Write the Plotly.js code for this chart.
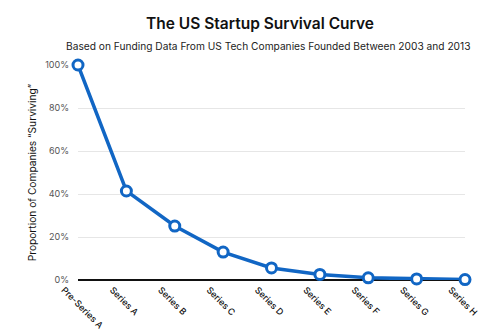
<!DOCTYPE html>
<html><head><meta charset="utf-8">
<script src="https://cdn.plot.ly/plotly-3.0.1.min.js"></script>
<style>html,body{margin:0;padding:0;background:#fff;}#chart{width:500px;height:335px;}</style>
</head><body><div id="chart"></div>
<script>
const stages = ["Pre-Series A","Series A","Series B","Series C","Series D","Series E","Series F","Series G","Series H"];
const survival = [100, 41.4, 25.1, 13, 5.6, 2.6, 1.0, 0.5, 0.2];
const yTickVals = [0, 20, 40, 60, 80, 100];
const yTickText = ["0%","20%","40%","60%","80%","100%"];

const FONT = "Inter, 'Open Sans', sans-serif";
Plotly.newPlot("chart", [{
  x: stages, y: survival, type: "scatter", mode: "lines+markers",
  line: {color: "#1166c4", width: 3.5},
  marker: {symbol: "circle", size: 10, color: "#ffffff", line: {color: "#1166c4", width: 3}},
  cliponaxis: false, hoverinfo: "skip"
}], {
  width: 500, height: 335,
  margin: {l: 78, r: 35, t: 65, b: 55},
  paper_bgcolor: "#ffffff", plot_bgcolor: "#ffffff",
  showlegend: false,
  title: {text: "The US Startup Survival Curve", x: 0.52, xanchor: "center", y: 0.93, yanchor: "middle",
          font: {family: FONT, size: 15.5, color: "#111", weight: 600}},
  annotations: [{text: "Based on Funding Data From US Tech Companies Founded Between 2003 and 2013",
    xref: "paper", yref: "paper", x: 0.49, y: 1.0 + 19/215, xanchor: "center", yanchor: "middle",
    showarrow: false, font: {family: FONT, size: 10.2, color: "#222"}}],
  xaxis: {type: "category", range: [0, 8], showgrid: false, zeroline: false,
    showline: false, ticks: "", tickangle: 45, ticklabelshift: -14, ticklabelstandoff: 2,
    tickfont: {family: FONT, size: 9, color: "#111", weight: 500}, fixedrange: true},
  yaxis: {range: [0, 100], tickvals: yTickVals, ticktext: yTickText, showgrid: true,
    gridcolor: "#e6e6e6", gridwidth: 1, zeroline: true, zerolinecolor: "#111", zerolinewidth: 1.5,
    showline: false, ticks: "", ticklabelstandoff: 8,
    tickfont: {family: FONT, size: 9, color: "#555"},
    title: {text: "Proportion of Companies \u201cSurviving\u201d", standoff: 6,
      font: {family: FONT, size: 10.2, color: "#111"}}, fixedrange: true}
}, {displayModeBar: false, staticPlot: true});
</script></body></html>
